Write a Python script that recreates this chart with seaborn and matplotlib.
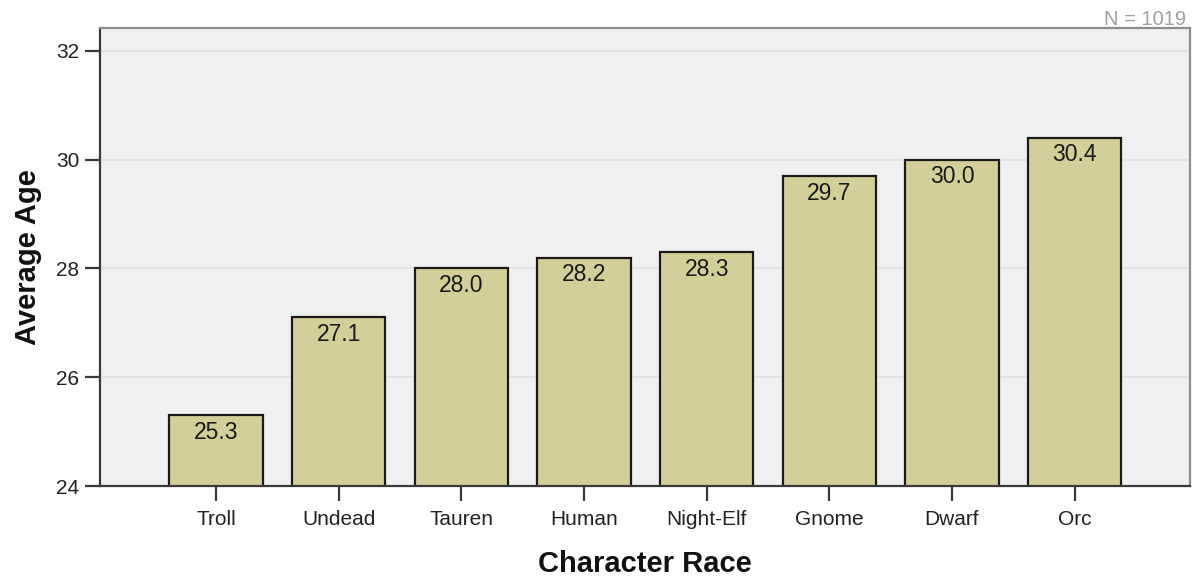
import matplotlib
matplotlib.use("Agg")
import matplotlib.pyplot as plt
import seaborn as sns
import pandas as pd

races = ["Troll", "Undead", "Tauren", "Human", "Night-Elf", "Gnome", "Dwarf", "Orc"]
avg_age = [25.3, 27.1, 28.0, 28.2, 28.3, 29.7, 30.0, 30.4]
y_ticks = [24, 26, 28, 30, 32]
n_total = 1019

df = pd.DataFrame({"race": races, "age": avg_age})

sns.set_theme(style="white")
plt.rcParams["font.family"] = ["Liberation Sans", "DejaVu Sans"]

fig = plt.figure(figsize=(11.94, 5.78), dpi=100)
ax = fig.add_axes([0.0838, 0.159, 0.9128, 0.7926])
ax.set_facecolor("#f0f0f0")

ax.set_axisbelow(True)
ax.yaxis.grid(True, color="#e2e2e2", linewidth=1.3)

sns.barplot(data=df, x="race", y="age", order=races, color="#d4cf98",
            width=0.76, edgecolor="#1a1a1a", linewidth=1.6,
            saturation=1, ax=ax)

ax.set_ylim(24, 32.42)
ax.set_xlim(-0.945, 7.94)
ax.set_yticks(y_ticks)
ax.set_yticklabels([str(t) for t in y_ticks])

# value labels just inside the top of each bar
for patch, val in zip(ax.patches, avg_age):
    ax.annotate(f"{val:.1f}", (patch.get_x() + patch.get_width() / 2, val),
                xytext=(0, -4), textcoords="offset points",
                ha="center", va="top", fontsize=16.5, color="#1a1a1a")

for side in ["left", "bottom"]:
    ax.spines[side].set_color("#3a3a3a")
    ax.spines[side].set_linewidth(1.6)
for side in ["top", "right"]:
    ax.spines[side].set_color("#8c8c8c")
    ax.spines[side].set_linewidth(1.6)

ax.tick_params(axis="both", which="major", direction="out", length=11,
               width=1.6, color="#3a3a3a", labelsize=15, labelcolor="#222222",
               pad=4)
ax.tick_params(axis="x", pad=6)
ax.tick_params(left=True, bottom=True)

ax.set_xlabel("Character Race", fontsize=21, fontweight="bold", labelpad=15,
              color="#111111")
ax.set_ylabel("Average Age", fontsize=21, fontweight="bold", labelpad=10,
              color="#111111")

fig.text(0.9933, 0.966, f"N = {n_total}", ha="right", va="center",
         fontsize=14.5, color="#a0a0a0")

fig.savefig("out.png", dpi=100)
